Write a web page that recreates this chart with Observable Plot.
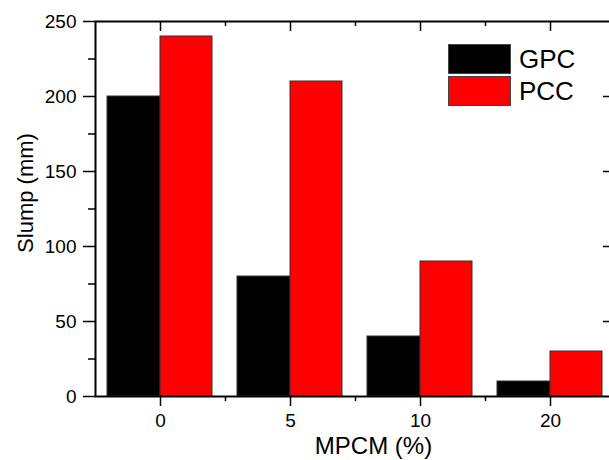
<!DOCTYPE html>
<html>
<head>
<meta charset="utf-8">
<script src="https://cdn.jsdelivr.net/npm/d3@7"></script>
<script src="https://cdn.jsdelivr.net/npm/@observablehq/plot@0.6"></script>
<style>
  html, body { margin: 0; padding: 0; overflow: hidden; background: #fff; }
  #wrap { position: relative; width: 609px; height: 460px; overflow: hidden; }
  #wrap svg, #wrap svg text { font-family: "Liberation Sans", Arial, sans-serif !important; }
  #legend { position: absolute; left: 448px; top: 43px; font-family: "Liberation Sans", Arial, sans-serif; font-size: 26px; color: #000; }
  .row { display: flex; align-items: center; height: 32px; }
  .sw { width: 61px; height: 28px; border: 1px solid #444; margin-right: 8px; }
</style>
</head>
<body>
<div id="wrap"><div id="legend"></div></div>
<script>
const categories = ["0", "5", "10", "20"];
const gpc = [200, 80, 40, 10];
const pcc = [240, 210, 90, 30];
const seriesNames = ["GPC", "PCC"];
const seriesColors = ["#000000", "#ff0000"];
const yTicks = [0, 50, 100, 150, 200, 250];
const yMinorTicks = [25, 75, 125, 175, 225];
const xLabel = "MPCM (%)";
const yLabel = "Slump (mm)";

const FONT = "Liberation Sans, Arial, sans-serif";
const table = categories.map((c, i) => ({cat: c, gpc: gpc[i], pcc: pcc[i]}));
const rightMajor = yTicks.slice(1, -1);

const chart = Plot.plot({
  width: 615,
  height: 460,
  marginLeft: 95,
  marginRight: 0,
  marginTop: 21,
  marginBottom: 64,
  style: {fontFamily: FONT, fontSize: "19px", color: "#000", background: "#fff", maxWidth: "none", overflow: "visible"},
  x: {type: "band", domain: categories, padding: 0},
  y: {domain: [0, 250]},
  marks: [
    Plot.barY(table, {x: "cat", y: "gpc", fill: seriesColors[0], stroke: "#333", strokeWidth: 1, insetLeft: 12, insetRight: 65}),
    Plot.barY(table, {x: "cat", y: "pcc", fill: seriesColors[1], stroke: "#333", strokeWidth: 1, insetLeft: 65, insetRight: 13}),
    Plot.axisY({ticks: yTicks, tickSize: 12, tickPadding: 7, label: null, strokeWidth: 1.5, fontFamily: FONT}),
    Plot.ruleY(yMinorTicks, {y: d => d, insetLeft: -7, insetRight: 520, strokeWidth: 1.5}),
    Plot.ruleY(rightMajor, {y: d => d, insetLeft: 508, strokeWidth: 1.5}),
    Plot.ruleY(yMinorTicks, {y: d => d, insetLeft: 514, strokeWidth: 1.5}),
    Plot.axisX({tickSize: 0, tickPadding: 17, label: null, fontFamily: FONT}),
    Plot.ruleX(categories, {x: d => d, insetTop: 375, insetBottom: -10, strokeWidth: 1.5}),
    Plot.ruleX(categories.slice(0, 3), {x: d => d, dx: 65, insetTop: 375, insetBottom: -5, strokeWidth: 1.5}),
    Plot.ruleX(categories, {x: d => d, insetBottom: 365, strokeWidth: 1.5}),
    Plot.ruleX(categories.slice(0, 3), {x: d => d, dx: 65, insetBottom: 370, strokeWidth: 1.5}),
    Plot.frame({stroke: "#000", strokeWidth: 2}),
    Plot.text([xLabel], {frameAnchor: "bottom", textAnchor: "middle", lineAnchor: "middle", dx: 18, dy: 50, fontSize: 24, fontFamily: FONT, text: d => d}),
    Plot.text([yLabel], {frameAnchor: "left", textAnchor: "middle", lineAnchor: "middle", dx: -70, dy: -16, rotate: -90, fontSize: 22, fontFamily: FONT, text: d => d})
  ]
});
chart.style.maxWidth = "none";
chart.style.display = "block";
const wrap = document.getElementById("wrap");
wrap.insertBefore(chart, wrap.firstChild);

const legend = document.getElementById("legend");
seriesNames.forEach((name, i) => {
  const row = document.createElement("div");
  row.className = "row";
  const sw = document.createElement("div");
  sw.className = "sw";
  sw.style.background = seriesColors[i];
  const t = document.createElement("span");
  t.textContent = name;
  row.appendChild(sw);
  row.appendChild(t);
  legend.appendChild(row);
});
</script>
</body>
</html>
